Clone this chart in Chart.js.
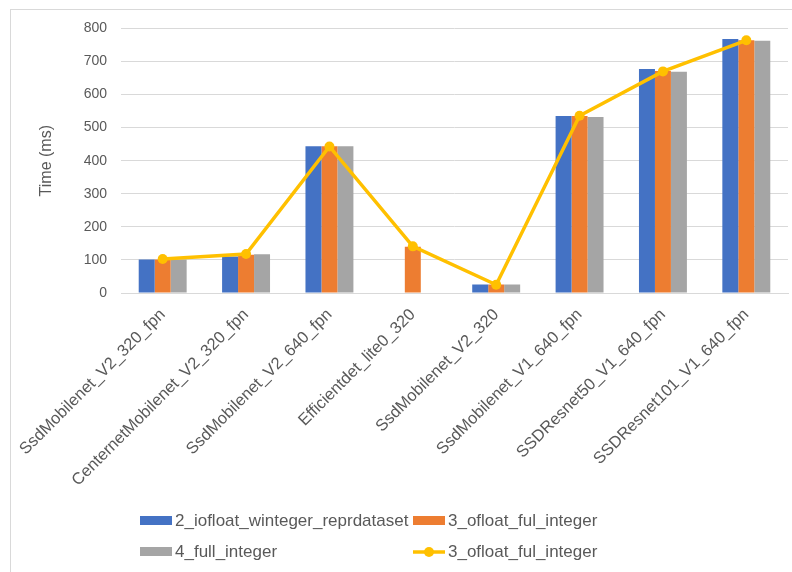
<!DOCTYPE html>
<html>
<head>
<meta charset="utf-8">
<script src="https://cdn.jsdelivr.net/npm/chart.js@4"></script>
<style>
    body { margin: 0; background: #fff; font-family: 'Liberation Sans', Arial, sans-serif; overflow: hidden; }
    #frame { position: absolute; left: 10px; top: 9px; width: 800px; height: 600px; border: 1px solid #d9d9d9; }
    #chart { position: absolute; left: 0; top: -4px; }
    .lg { position: absolute; font-size: 17px; color: #595959; white-space: nowrap; line-height: 18px; }
    .lg .box { display: inline-block; width: 32px; height: 9px; vertical-align: middle; margin-right: 3px; margin-top: -2px; }
    .lg svg { vertical-align: middle; margin-right: 3px; margin-top: -2px; }
</style>
</head>
<body>
<div id="frame">
    <canvas id="chart" width="800" height="604"></canvas>
</div>
<div class="lg" style="left:140px; top:512px;"><span class="box" style="background:#4472C4"></span>2_iofloat_winteger_reprdataset</div>
<div class="lg" style="left:413px; top:512px;"><span class="box" style="background:#ED7D31"></span>3_ofloat_ful_integer</div>
<div class="lg" style="left:140px; top:543px;"><span class="box" style="background:#A5A5A5"></span>4_full_integer</div>
<div class="lg" style="left:413px; top:543px;"><svg width="32" height="12"><line x1="0" y1="6" x2="32" y2="6" stroke="#FFC000" stroke-width="3.5"/><circle cx="16" cy="6" r="5" fill="#FFC000"/></svg>3_ofloat_ful_integer</div>
<script>
const categories = [
    'SsdMobilenet_V2_320_fpn',
    'CenternetMobilenet_V2_320_fpn',
    'SsdMobilenet_V2_640_fpn',
    'Efficientdet_lite0_320',
    'SsdMobilenet_V2_320',
    'SsdMobilenet_V1_640_fpn',
    'SSDResnet50_V1_640_fpn',
    'SSDResnet101_V1_640_fpn'
];
const iofloatWinteger = [101, 110, 444, 0, 26, 535, 677, 768];   // 2_iofloat_winteger_reprdataset
const ofloatFulInteger = [101, 116, 444, 140, 26, 535, 671, 764]; // 3_ofloat_ful_integer
const fullInteger = [101, 117, 444, 0, 26, 532, 669, 763];       // 4_full_integer
const ofloatLine = [103, 118, 443, 141, 25, 536, 670, 764];      // 3_ofloat_ful_integer (line)
const yTicks = [0, 100, 200, 300, 400, 500, 600, 700, 800];

const textColor = '#595959';
const ctx = document.getElementById('chart').getContext('2d');

new Chart(ctx, {
    type: 'bar',
    data: {
        labels: categories,
        datasets: [
            {
                type: 'line',
                label: '3_ofloat_ful_integer',
                data: ofloatLine,
                borderColor: '#FFC000',
                backgroundColor: '#FFC000',
                borderWidth: 3.5,
                pointRadius: 5,
                pointBackgroundColor: '#FFC000',
                pointBorderWidth: 0,
                tension: 0,
                order: 0
            },
            { label: '2_iofloat_winteger_reprdataset', data: iofloatWinteger, backgroundColor: '#4472C4', order: 1 },
            { label: '3_ofloat_ful_integer', data: ofloatFulInteger, backgroundColor: '#ED7D31', order: 1 },
            { label: '4_full_integer', data: fullInteger, backgroundColor: '#A5A5A5', order: 1 }
        ]
    },
    options: {
        responsive: false,
        animation: false,
        layout: { padding: { left: 22, right: 23, top: 6, bottom: 0 } },
        datasets: {
            bar: { categoryPercentage: 0.575, barPercentage: 1.0 }
        },
        plugins: {
            legend: { display: false },
            tooltip: { enabled: false }
        },
        scales: {
            x: {
                grid: { display: false },
                border: { display: true, color: '#d9d9d9' },
                ticks: {
                    color: textColor,
                    font: { family: 'Liberation Sans', size: 16.5 },
                    minRotation: 45,
                    maxRotation: 45,
                    autoSkip: false,
                    padding: 4
                },
                afterFit: function (scale) { scale.height = 317; }
            },
            y: {
                min: 0,
                max: 800,
                afterBuildTicks: function (scale) {
                    scale.ticks = yTicks.map(v => ({ value: v }));
                },
                grid: { color: '#d9d9d9', drawTicks: false },
                border: { display: false },
                ticks: {
                    color: textColor,
                    font: { family: 'Liberation Sans', size: 14 },
                    padding: 14
                },
                title: {
                    display: true,
                    text: 'Time (ms)',
                    color: textColor,
                    font: { family: 'Liberation Sans', size: 16 },
                    padding: { top: 4, bottom: 10 }
                },
                afterFit: function (scale) { scale.width = 88; }
            }
        }
    }
});
</script>
</body>
</html>
